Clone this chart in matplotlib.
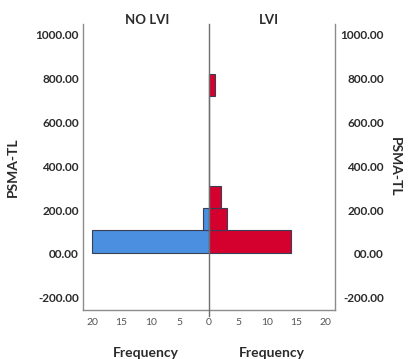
import numpy as np
import matplotlib.pyplot as plt

plt.rcParams['font.family'] = ['Lato', 'DejaVu Sans']

# PSMA-TL histogram bins (lower edge of each bin) and counts per group
bin_lower = [5, 107, 209, 311, 413, 515, 617, 719]
bin_width = 102
no_lvi_counts = [20, 1, 0, 0, 0, 0, 0, 0]
lvi_counts = [14, 3, 2, 0, 0, 0, 0, 1]

y_ticks = [-200, 0, 200, 400, 600, 800, 1000]
y_tick_labels = ['-200.00', '00.00', '200.00', '400.00', '600.00', '800.00', '1000.00']
x_ticks = [-20, -15, -10, -5, 0, 5, 10, 15, 20]

blue = '#4A8FE0'
red = '#D4012F'
edge = '#3a3f55'
axis_grey = '#8c8c8c'
text_col = '#2b2b2b'

fig = plt.figure(figsize=(4.08, 3.59), dpi=100)
ax = fig.add_axes([0.2034, 0.1365, 0.618, 0.7967])

# NO LVI drawn to the left of zero, LVI to the right
ax.barh(bin_lower, [-c for c in no_lvi_counts], height=bin_width, align='edge',
        color=blue, edgecolor=edge, linewidth=0.8, zorder=2)
ax.barh(bin_lower, lvi_counts, height=bin_width, align='edge',
        color=red, edgecolor=edge, linewidth=0.8, zorder=3)

ax.axvline(0, color='#6e6e6e', linewidth=1.0, zorder=4, clip_on=False,
           ymin=-0.02, ymax=1)

ax.set_xlim(-21.6, 21.6)
ax.set_ylim(-256, 1050)

ax.spines['top'].set_visible(False)
for side in ['left', 'right', 'bottom']:
    ax.spines[side].set_color(axis_grey)
    ax.spines[side].set_linewidth(1.0)

ax.set_xticks(x_ticks)
ax.set_xticklabels([str(abs(t)) for t in x_ticks], fontsize=7.5, color='#555555')
ax.tick_params(axis='x', length=0, pad=6)

ax.set_yticks(y_ticks)
ax.set_yticklabels(y_tick_labels, fontsize=8.5, fontweight='bold', color=text_col)
ax.tick_params(axis='y', length=0, pad=3)
ax.set_ylabel('PSMA-TL', fontsize=10, fontweight='bold', color=text_col, labelpad=12)

# right-hand copy of the value axis, labels right-aligned
ax2 = ax.twinx()
ax2.set_ylim(ax.get_ylim())
ax2.set_yticks(y_ticks)
ax2.set_yticklabels(y_tick_labels, fontsize=8.5, fontweight='bold', color=text_col,
                    ha='right')
ax2.tick_params(axis='y', length=0, pad=35)
for side in ['top', 'left', 'right', 'bottom']:
    ax2.spines[side].set_visible(False)
ax2.set_ylabel('PSMA-TL', fontsize=10, fontweight='bold', color=text_col,
               rotation=270, labelpad=12)

# group titles and frequency labels for each half
ax.text(-10.6, 1.014, 'NO LVI', transform=ax.get_xaxis_transform(),
        ha='center', va='center', fontsize=9.5, fontweight='bold', color=text_col)
ax.text(10.2, 1.014, 'LVI', transform=ax.get_xaxis_transform(),
        ha='center', va='center', fontsize=9.5, fontweight='bold', color=text_col)
ax.text(-10.8, -0.13, 'Frequency', transform=ax.get_xaxis_transform(),
        ha='center', va='top', fontsize=10, fontweight='bold', color=text_col)
ax.text(10.8, -0.13, 'Frequency', transform=ax.get_xaxis_transform(),
        ha='center', va='top', fontsize=10, fontweight='bold', color=text_col)

fig.savefig('out.png', dpi=100)
